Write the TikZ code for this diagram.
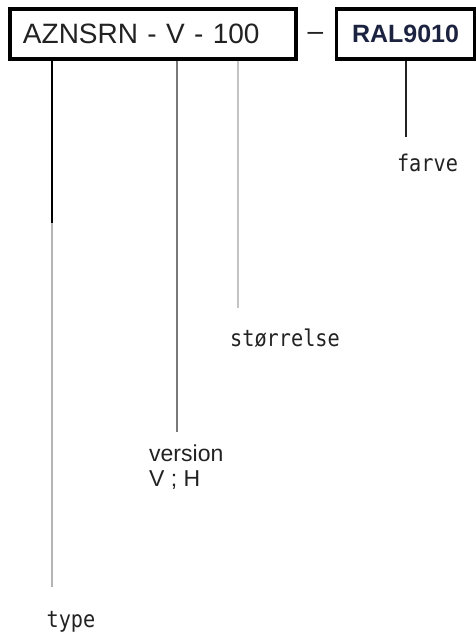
\documentclass[tikz,border=0pt]{standalone}
\usepackage{fontspec}
\setmainfont{Liberation Sans}
\newfontfamily\labelfont[FakeStretch=0.88]{DejaVu Sans Mono}
\definecolor{textgray}{HTML}{222222}
\definecolor{navy}{HTML}{1C2340}
\definecolor{leadlight}{HTML}{B4B4B4}
\definecolor{leadmid}{HTML}{7A7A7A}
\definecolor{leadpale}{HTML}{C4C4C4}

\begin{document}
\begin{tikzpicture}[x=1pt,y=-1pt,
box/.style={draw,line width=3.5pt,minimum height=50pt},
tag/.style={font=\labelfont\fontsize{23}{23}\selectfont,text=textgray,inner sep=0pt},
lead/.style={line width=2pt}]
\useasboundingbox (0,0) rectangle (476,637);
\node[box,minimum width=286pt,text width=260pt,inner xsep=13pt,align=left,
  font=\fontsize{28}{28}\selectfont,text=textgray] (A) at (153,34) {AZNSRN - V - 100};
\node[box,minimum width=138pt,font=\bfseries\fontsize{25}{25}\selectfont,text=navy] (B) at (405.5,34) {RAL9010};
\node[font=\fontsize{28}{28}\selectfont,text=textgray] (C) at (315.5,36) {--};
\node[tag] (D) at (71,622) {type};
\node[font=\fontsize{23}{25}\selectfont,text=textgray,align=left,anchor=north west,inner sep=0pt] (E) at (149,445) {version\\V ; H};
\node[tag] (F) at (285,338) {størrelse};
\node[tag] (G) at (427.5,163) {farve};
\coordinate (a1) at (52,223);
\coordinate (a2) at (52,587);
\coordinate (b) at (177,432);
\coordinate (c) at (238,308);
\coordinate (d) at (406,137);
\draw[lead,black] (A.south -| a1) -- (a1);
\draw[lead,leadlight] (a1) -- (a2);
\draw[lead,leadmid,line width=2.5pt] (A.south -| b) -- (b);
\draw[lead,leadpale,line width=2.5pt] (A.south -| c) -- (c);
\draw[lead,textgray] (B.south -| d) -- (d);
\end{tikzpicture}
\end{document}
